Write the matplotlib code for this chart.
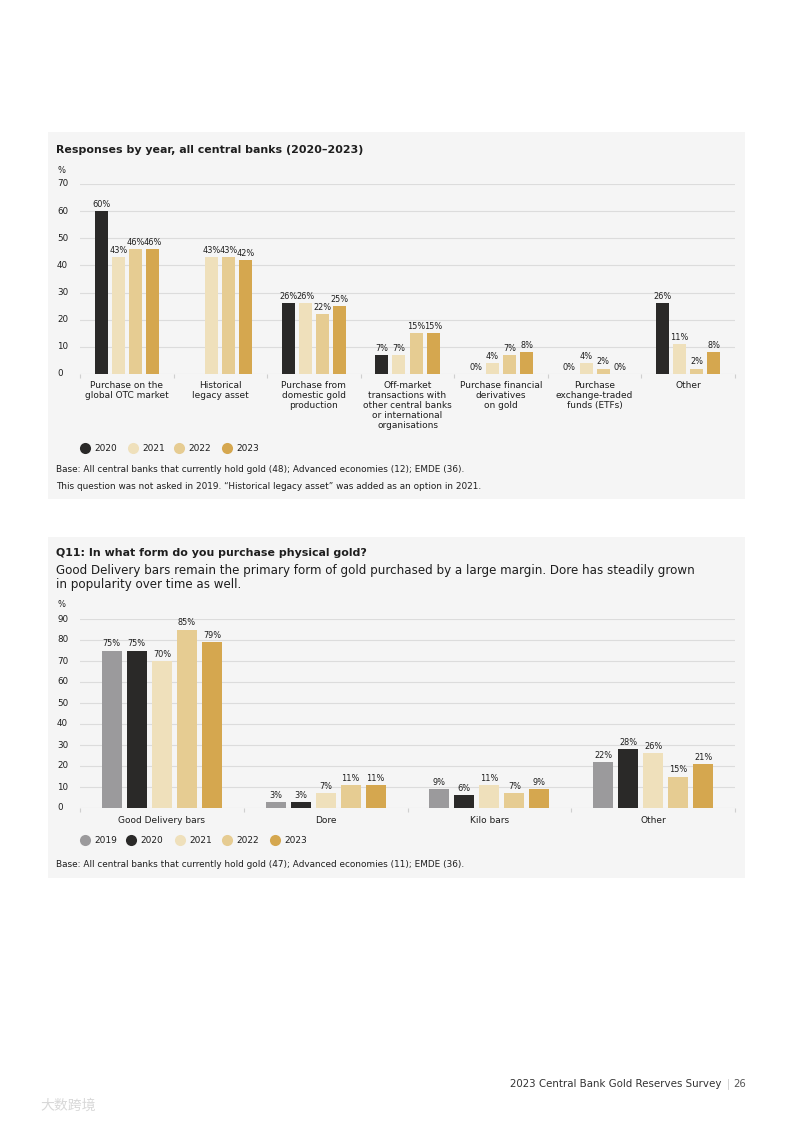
import numpy as np
import matplotlib
matplotlib.use("Agg")
import matplotlib.pyplot as plt
from matplotlib.patches import Rectangle

plt.rcParams['font.family'] = ['DejaVu Sans', 'Noto Sans CJK SC']

# ---------------- data ----------------
categories1 = ["Purchase on the\nglobal OTC market", "Historical\nlegacy asset",
               "Purchase from\ndomestic gold\nproduction",
               "Off-market\ntransactions with\nother central banks\nor international\norganisations",
               "Purchase financial\nderivatives\non gold",
               "Purchase\nexchange-traded\nfunds (ETFs)", "Other"]
years1 = ["2020", "2021", "2022", "2023"]
resp_2020 = [60, np.nan, 26, 7, 0, 0, 26]
resp_2021 = [43, 43, 26, 7, 4, 4, 11]
resp_2022 = [46, 43, 22, 15, 7, 2, 2]
resp_2023 = [46, 42, 25, 15, 8, 0, 8]
yticks1 = [0, 10, 20, 30, 40, 50, 60, 70]

categories2 = ["Good Delivery bars", "Dore", "Kilo bars", "Other"]
years2 = ["2019", "2020", "2021", "2022", "2023"]
form_2019 = [75, 3, 9, 22]
form_2020 = [75, 3, 6, 28]
form_2021 = [70, 7, 11, 26]
form_2022 = [85, 11, 7, 15]
form_2023 = [79, 11, 9, 21]
yticks2 = [0, 10, 20, 30, 40, 50, 60, 70, 80, 90]

colors = {"2019": "#9b9a9c", "2020": "#2a2928", "2021": "#efe0bb",
          "2022": "#e6cc92", "2023": "#d5a74f"}

# ---------------- figure ----------------
W, H = 793, 1122
fig = plt.figure(figsize=(W / 100, H / 100), dpi=100)
fig.patch.set_facecolor('white')

bg = fig.add_axes([0, 0, 1, 1], zorder=0)
bg.set_xlim(0, W)
bg.set_ylim(H, 0)
bg.axis('off')

PANEL = '#f5f5f5'
bg.add_patch(Rectangle((48, 132), 697, 367, color=PANEL, lw=0))
bg.add_patch(Rectangle((48, 537), 697, 341, color=PANEL, lw=0))


def px_axes(x0, y0, x1, y1):
    ax = fig.add_axes([x0 / W, 1 - y1 / H, (x1 - x0) / W, (y1 - y0) / H], zorder=1)
    ax.patch.set_alpha(0)
    return ax


TXT = '#1e1e1e'
GRID = '#dcdcdc'
VAL_FS = 5.9
TICK_FS = 6.3


def style_axes(ax, ncat, yticks, x0px, widthpx):
    ax.set_xlim(-0.5, ncat - 0.5)
    ax.set_ylim(0, yticks[-1])
    for s in ax.spines.values():
        s.set_visible(False)
    ax.set_yticks(yticks)
    ax.yaxis.grid(True, color=GRID, lw=0.8)
    ax.set_axisbelow(True)
    ax.tick_params(axis='y', length=0, labelleft=False)
    for t in yticks:
        ax.text((57 - x0px) / widthpx, t, str(t), transform=ax.get_yaxis_transform(),
                ha='left', va='center', fontsize=TICK_FS, color=TXT)
    ax.set_xticks(np.arange(-0.5, ncat, 1.0), minor=True)
    ax.tick_params(axis='x', which='minor', length=3, color='#cfcfcf', width=0.8)
    ax.tick_params(axis='x', which='major', length=0)


def bar_group(ax, series, names, spacing, width):
    n = len(series)
    for i, (vals, name) in enumerate(zip(series, names)):
        x = np.arange(len(vals)) + (i - (n - 1) / 2) * spacing
        ax.bar(x, vals, width=width, color=colors[name], zorder=2)
        for xi, v in zip(x, vals):
            if np.isnan(v):
                continue
            ax.annotate(f"{int(v)}%", (xi, v), xytext=(0, 1.5), textcoords='offset points',
                        ha='center', va='bottom', fontsize=VAL_FS, color=TXT)


# ---------------- chart 1 ----------------
ax1 = px_axes(80, 184, 735, 374)
style_axes(ax1, len(categories1), yticks1, 80, 655)
bar_group(ax1, [resp_2020, resp_2021, resp_2022, resp_2023], years1, 0.182, 0.139)
ax1.set_xticks(np.arange(len(categories1)))
ax1.set_xticklabels(categories1, fontsize=6.5, color=TXT, linespacing=1.15)
ax1.tick_params(axis='x', which='major', pad=5)

bg.text(56, 150, "Responses by year, all central banks (2020\u20132023)", fontsize=7.9,
        fontweight='bold', color=TXT, ha='left', va='center')
bg.text(57, 170, "%", fontsize=6, color=TXT, ha='left', va='center')

lx = [85, 133, 179, 227]
for x, name in zip(lx, years1):
    bg.plot([x], [448], marker='o', ms=8, color=colors[name], mec='none')
    bg.text(x + 9, 448, name, fontsize=6.5, color=TXT, ha='left', va='center')

bg.text(56, 469, "Base: All central banks that currently hold gold (48); Advanced economies (12); EMDE (36).",
        fontsize=6.4, color=TXT, ha='left', va='center')
bg.text(56, 486, "This question was not asked in 2019. \u201cHistorical legacy asset\u201d was added as an option in 2021.",
        fontsize=6.4, color=TXT, ha='left', va='center')

# ---------------- chart 2 ----------------
ax2 = px_axes(80, 619, 735, 808)
style_axes(ax2, len(categories2), yticks2, 80, 655)
bar_group(ax2, [form_2019, form_2020, form_2021, form_2022, form_2023], years2, 0.153, 0.122)
ax2.set_xticks(np.arange(len(categories2)))
ax2.set_xticklabels(categories2, fontsize=6.5, color=TXT)
ax2.tick_params(axis='x', which='major', pad=6)

bg.text(56, 553, "Q11: In what form do you purchase physical gold?", fontsize=7.9,
        fontweight='bold', color=TXT, ha='left', va='center')
bg.text(56, 570, "Good Delivery bars remain the primary form of gold purchased by a large margin. Dore has steadily grown",
        fontsize=8.6, color=TXT, ha='left', va='center')
bg.text(56, 584, "in popularity over time as well.", fontsize=8.6, color=TXT, ha='left', va='center')
bg.text(57, 604, "%", fontsize=6, color=TXT, ha='left', va='center')

lx2 = [85, 131, 180, 227, 275]
for x, name in zip(lx2, years2):
    bg.plot([x], [840], marker='o', ms=8, color=colors[name], mec='none')
    bg.text(x + 9, 840, name, fontsize=6.5, color=TXT, ha='left', va='center')

bg.text(56, 864, "Base: All central banks that currently hold gold (47); Advanced economies (11); EMDE (36).",
        fontsize=6.4, color=TXT, ha='left', va='center')

# ---------------- footer ----------------
bg.text(722, 1084, "2023 Central Bank Gold Reserves Survey", fontsize=7.4, color='#333333',
        ha='right', va='center')
bg.plot([728, 728], [1079, 1089], color='#cccccc', lw=0.6)
bg.text(733, 1084, "26", fontsize=7.2, color='#555555', ha='left', va='center')
bg.text(40, 1106, "大数跨境", fontsize=10, color='#d8d8d8', ha='left', va='center',
        family=['Noto Sans CJK SC', 'DejaVu Sans'])

fig.savefig("out.png", dpi=100, facecolor='white')
